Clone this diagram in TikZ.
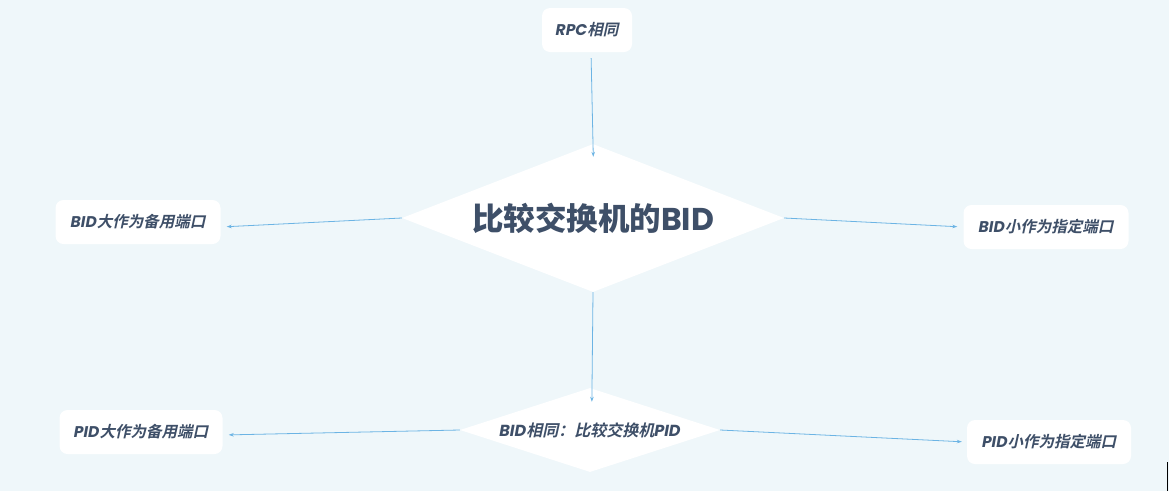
\documentclass[tikz,border=0pt]{standalone}
\usepackage{fontspec}
\setmainfont{Poppins}
\newfontfamily\cjk{Noto Sans CJK SC}[BoldItalicFont={Noto Sans CJK SC Bold}, BoldItalicFeatures={FakeSlant=0.22}]
\usetikzlibrary{shapes.geometric,arrows.meta}
\definecolor{bg}{HTML}{EFF7FA}
\definecolor{txt}{HTML}{3E4F68}
\definecolor{arr}{HTML}{6CB4E4}
\tikzset{
  box/.style={fill=white, rounded corners=8pt, minimum height=44pt, inner sep=0pt, text=txt, font=\fontsize{15.5}{18}\selectfont\bfseries\itshape},
  dia/.style={diamond, fill=white, inner sep=0pt, text=txt},
  conn/.style={draw=arr, line width=0.8pt, -{Stealth[length=5pt,width=3.5pt]}},
}
\begin{document}
\begin{tikzpicture}[x=1pt,y=-1pt]
\fill[bg] (0,0) rectangle (1169,491);
\useasboundingbox (0,0) rectangle (1169,491);
\node[box, minimum width=90pt] (rpc) at (587,30) {RPC{\cjk 相同}};
\node[box, minimum width=165pt] (bid1) at (138,222) {BID{\cjk 大作为备用端口}};
\node[box, minimum width=165pt] (bid2) at (1046,227) {BID{\cjk 小作为指定端口}};
\node[box, minimum width=163pt] (pid1) at (141,432) {PID{\cjk 大作为备用端口}};
\node[box, minimum width=164pt] (pid2) at (1049,442) {PID{\cjk 小作为指定端口}};
\node[dia, aspect=2.58, minimum width=382pt, minimum height=148pt, font=\fontsize{31.5}{36}\selectfont\bfseries] (big) at (593,218) {{\cjk 比较交换机的}BID};
\node[dia, aspect=3.1, minimum width=260pt, minimum height=84pt, font=\fontsize{16}{18}\selectfont\bfseries\itshape] (small) at (590,430) {BID{\cjk 相同：比较交换机}PID};
\draw[conn, shorten <=6pt, shorten >=-13pt] ([xshift=4pt]rpc.south) -- (big.north);
\draw[conn, shorten >=6pt] (big.west) -- ([yshift=-5pt]bid1.east);
\draw[conn, shorten >=6pt] (big.east) -- (bid2.west);
\draw[conn, shorten >=-14pt] (big.south) -- ([xshift=2pt]small.north);
\draw[conn, shorten >=6pt] (small.west) -- ([yshift=-3pt]pid1.east);
\draw[conn, shorten >=5pt] (small.east) -- (pid2.west);
\draw[black, line width=1pt] (1167.5,462) -- (1167.5,491);
\end{tikzpicture}
\end{document}
